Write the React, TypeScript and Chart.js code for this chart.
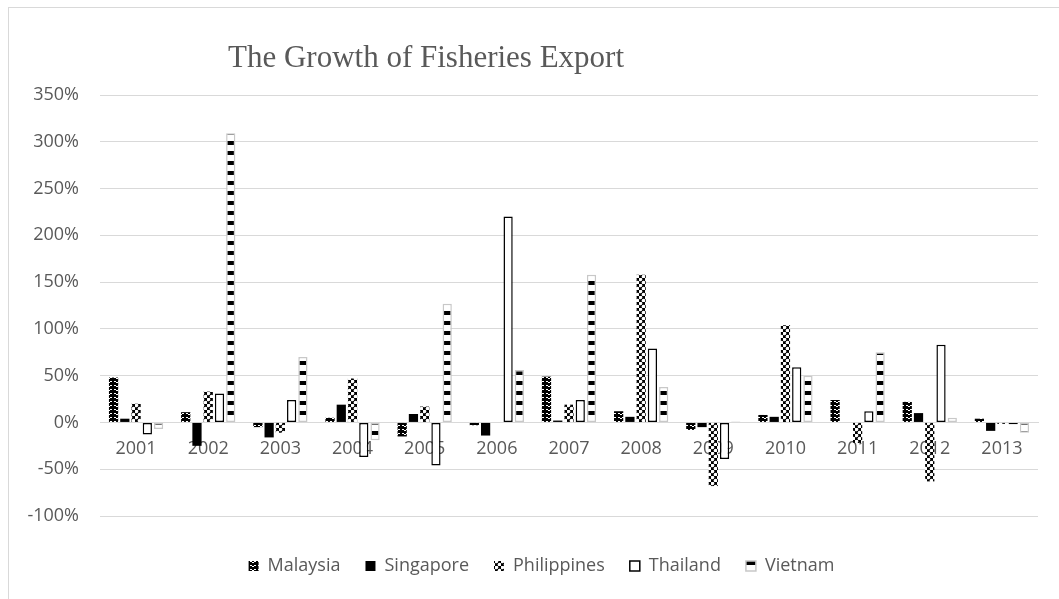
import React, { useEffect, useRef } from 'react';
import { Chart, registerables } from 'chart.js';

Chart.register(...registerables);

const TITLE = 'The Growth of Fisheries Export';
const categories = ['2001', '2002', '2003', '2004', '2005', '2006', '2007', '2008', '2009', '2010', '2011', '2012', '2013'];
const malaysia = [48, 11, -5, 5, -15, -3, 49, 12, -8, 8, 24, 22, 4];
const singapore = [4, -25, -16, 19, 9, -14, 2, 6, -5, 6, 0, 10, -9];
const philippines = [20, 33, -11, 47, 17, 0, 19, 158, -68, 104, -22, -63, -1.5];
const thailand = [-13, 31, 24, -37, -46, 220, 24, 79, -39, 59, 12, 83, -2];
const vietnam = [-7, 309, 70, -19, 127, 56, 158, 38, 1, 50, 75, 5, -11];
const yMin = -100;
const yMax = 350;
const yStep = 50;

function makePattern(w: number, h: number, draw: (c: CanvasRenderingContext2D) => void) {
  const cv = document.createElement('canvas');
  cv.width = w;
  cv.height = h;
  const c = cv.getContext('2d')!;
  draw(c);
  return c.createPattern(cv, 'repeat')!;
}

export default function App() {
  const ref = useRef<HTMLCanvasElement>(null);

  useEffect(() => {
    const canvas = ref.current!;

    const pMalaysia = makePattern(8, 8, (c) => {
      c.fillStyle = '#000';
      c.fillRect(0, 0, 8, 8);
      c.fillStyle = '#fff';
      c.fillRect(1, 1, 2, 1);
      c.fillRect(3, 2, 2, 1);
      c.fillRect(5, 1, 2, 1);
      c.fillRect(1, 5, 2, 1);
      c.fillRect(3, 6, 2, 1);
      c.fillRect(5, 5, 2, 1);
    });
    const pPhilippines = makePattern(6, 6, (c) => {
      c.fillStyle = '#000';
      c.fillRect(0, 0, 6, 6);
      c.fillStyle = '#fff';
      c.beginPath();
      c.arc(1.5, 1.5, 1.8, 0, Math.PI * 2);
      c.fill();
      c.beginPath();
      c.arc(4.5, 4.5, 1.8, 0, Math.PI * 2);
      c.fill();
    });
    const pVietnam = makePattern(4, 10, (c) => {
      c.fillStyle = '#fff';
      c.fillRect(0, 0, 4, 10);
      c.fillStyle = '#000';
      c.fillRect(0, 3, 4, 4);
    });

    const titlePlugin = {
      id: 'sideTitle',
      afterLayout(chart: any) {
        const lg = chart.legend;
        if (lg) {
          lg.left += 18;
          lg.right += 18;
        }
      },
      afterDraw(chart: any) {
        const ctx = chart.ctx;
        ctx.save();
        ctx.font = '31px "Liberation Serif"';
        ctx.fillStyle = '#595959';
        ctx.textBaseline = 'alphabetic';
        ctx.textAlign = 'left';
        ctx.fillText(TITLE, 219, 59);
        ctx.restore();
      },
    };

    const common = { categoryPercentage: 0.78, barPercentage: 0.82, borderSkipped: false as const };

    const chart = new Chart(canvas, {
      type: 'bar',
      data: {
        labels: categories,
        datasets: [
          { label: 'Malaysia', data: malaysia, backgroundColor: pMalaysia, borderWidth: 0, ...common },
          { label: 'Singapore', data: singapore, backgroundColor: '#000', borderWidth: 0, ...common },
          { label: 'Philippines', data: philippines, backgroundColor: pPhilippines, borderWidth: 0, ...common },
          { label: 'Thailand', data: thailand, backgroundColor: '#fff', borderColor: '#000', borderWidth: 1.5, ...common },
          { label: 'Vietnam', data: vietnam, backgroundColor: pVietnam, borderColor: '#c8c8c8', borderWidth: 1.5, ...common },
        ],
      },
      options: {
        responsive: false,
        animation: false,
        devicePixelRatio: 1,
        layout: { padding: { top: 87, left: 0, right: 21, bottom: 14 } },
        font: { family: '"Open Sans"', size: 18 },
        plugins: {
          title: { display: false },
          tooltip: { enabled: false },
          legend: {
            position: 'bottom',
            title: { display: true, text: '', padding: 2, font: { size: 10 } },
            labels: {
              boxWidth: 10,
              boxHeight: 10,
              padding: 25,
              color: '#595959',
              font: { family: '"Open Sans"', size: 18 },
            },
          },
        },
        scales: {
          x: {
            position: { y: 0 } as any,
            grid: { display: false, drawTicks: false },
            border: { display: true, color: '#d9d9d9', width: 1 },
            ticks: {
              color: '#595959',
              padding: 16,
              font: { family: '"Open Sans"', size: 18 },
              maxRotation: 0,
              autoSkip: false,
            },
          },
          y: {
            min: yMin,
            max: yMax,
            grid: { color: '#d9d9d9', lineWidth: 1, drawTicks: false },
            border: { display: false },
            ticks: {
              stepSize: yStep,
              color: '#595959',
              padding: 21,
              font: { family: '"Open Sans"', size: 18 },
              callback: (v: any) => `${v}%`,
            },
            afterFit: (scale: any) => {
              scale.width = 91;
            },
          },
        },
      },
      plugins: [titlePlugin],
    });

    return () => chart.destroy();
  }, []);

  return (
    <div
      style={{
        position: 'fixed',
        left: 8,
        top: 7,
        width: 1051,
        height: 592,
        borderTop: '1px solid #d9d9d9',
        borderLeft: '1px solid #d9d9d9',
        boxSizing: 'border-box',
        background: '#fff',
      }}
    >
      <canvas ref={ref} width={1050} height={591} style={{ display: 'block' }} />
    </div>
  );
}
